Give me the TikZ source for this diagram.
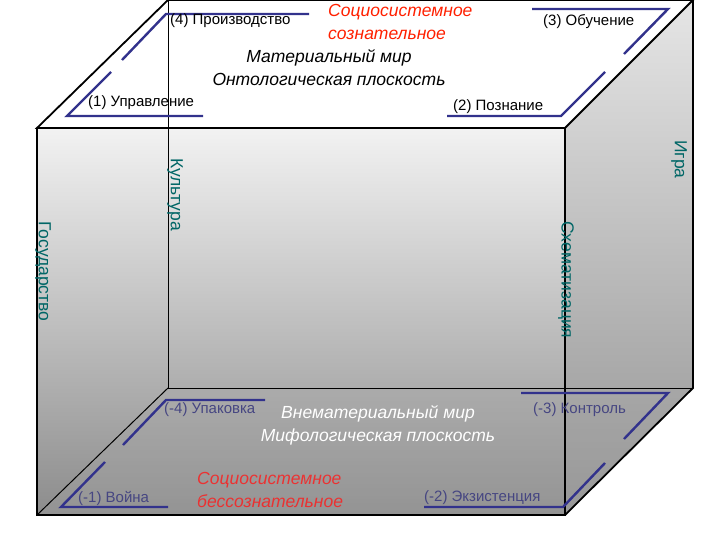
\documentclass[tikz,border=0pt]{standalone}
\usepackage{fontspec}
\setmainfont{Liberation Sans}
\begin{document}
\begin{tikzpicture}[x=1pt,y=-1pt,
  edge/.style={black,line width=1.8pt,line join=miter},
  thin edge/.style={black,line width=1pt},
  brk/.style={draw={rgb,255:red,50;green,50;blue,140},line width=2.4pt,line join=miter},
  lbl/.style={font=\fontsize{15}{17}\selectfont,inner sep=0pt},
  big/.style={font=\fontsize{17.5}{23}\selectfont\itshape,inner sep=0pt,align=center},
  vert/.style={font=\fontsize{17.5}{20}\selectfont,text=teal!80!black,rotate=-90,inner sep=0pt}]
\useasboundingbox (0,0) rectangle (720,540);
\shade[top color=gray!20,bottom color=gray!85] (565,128)--(693,0)--(693,388)--(565,515)--cycle;
\shade[top color=gray!10,bottom color=gray!90] (37,128) rectangle (565,515);
\fill[gray!70,opacity=0.3] (37,515)--(168,388)--(693,388)--(565,515)--cycle;
\fill[white] (37,128)--(168,0)--(693,0)--(565,128)--cycle;
\draw[thin edge] (168,0)--(168,388)--(693,388);
\draw[thin edge] (168,388)--(37,515);
\draw[edge] (37,128)--(168,0)--(693,0)--(565,128)--cycle;
\draw[edge] (37,128)--(37,515)--(565,515)--(565,128);
\draw[edge] (693,0)--(693,388)--(565,515);
\draw[brk] (309,14)--(166,14)--(122,60);
\draw[brk] (111,72)--(67,116)--(203,116);
\draw[brk] (532,9)--(668,9)--(624,54);
\draw[brk] (605,72)--(561,116)--(447,116);
\draw[brk] (265,400)--(166,400)--(123,445);
\draw[brk] (105,462)--(61,507)--(168,507);
\draw[brk] (521,393)--(668,393)--(624,439);
\draw[brk] (605,463)--(563,507)--(424,507);
\node[lbl,anchor=west] (l4) at (170,21) {(4) Производство};
\node[lbl,anchor=west] (l1) at (88,103) {(1) Управление};
\node[lbl,anchor=west] (l3) at (543,22) {(3) Обучение};
\node[lbl,anchor=west] (l2) at (453,107) {(2) Познание};
\node[lbl,anchor=west,text={rgb,255:red,70;green,70;blue,130}] (m4) at (164,410) {(-4) Упаковка};
\node[lbl,anchor=west,text={rgb,255:red,70;green,70;blue,130}] (m1) at (78,498) {(-1) Война};
\node[lbl,anchor=west,text={rgb,255:red,70;green,70;blue,130}] (m3) at (533,410) {(-3) Контроль};
\node[lbl,anchor=west,text={rgb,255:red,70;green,70;blue,130}] (m2) at (424,498) {(-2) Экзистенция};
\node[big,text=red!75!orange,anchor=north west,align=left] (s1) at (328,4) {Социосистемное\\сознательное};
\node[big] (t1) at (329,68) {Материальный мир\\Онтологическая плоскость};
\node[big,text=white] (t2) at (378,425) {Внематериальный мир\\Мифологическая плоскость};
\node[big,text=red!90!white,anchor=north west,align=left,opacity=0.8] (s2) at (197,472) {Социосистемное\\бессознательное};
\node[vert,anchor=west] (v1) at (175,158) {Культура};
\node[vert,anchor=west] (v2) at (43,221) {Государство};
\node[vert,anchor=west] (v3) at (566,221) {Схематизация};
\node[vert,anchor=west] (v4) at (679,140) {Игра};
\end{tikzpicture}
\end{document}
